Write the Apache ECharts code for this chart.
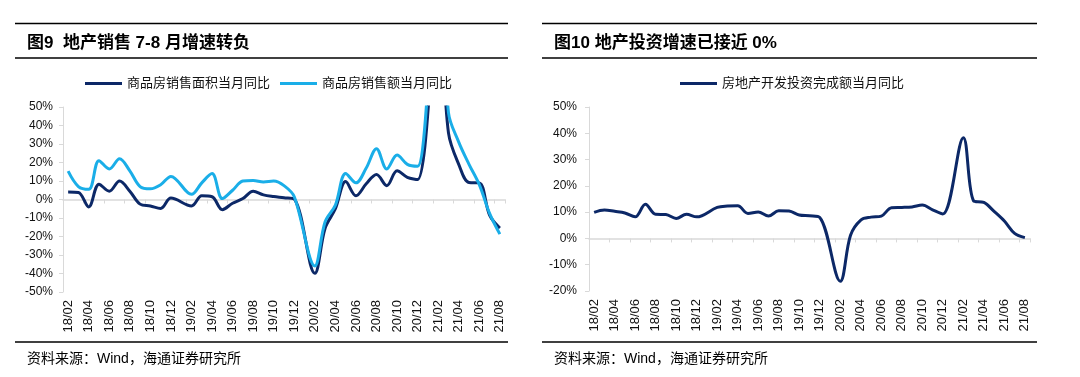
<!DOCTYPE html>
<html>
<head>
<meta charset="utf-8">
<script src="https://cdn.jsdelivr.net/npm/echarts@6/dist/echarts.min.js"></script>
<style>
  html, body { margin: 0; padding: 0; background: #fff; }
  #chart { width: 1080px; height: 377px; }
</style>
</head>
<body>
<div id="chart"></div>
<script>
// monthly categories, January is not published on its own (null -> line joins Dec to Feb)
const months = [
  '18/02', '18/03', '18/04', '18/05', '18/06', '18/07', '18/08', '18/09', '18/10', '18/11', '18/12',
  '19/01', '19/02', '19/03', '19/04', '19/05', '19/06', '19/07', '19/08', '19/09', '19/10', '19/11', '19/12',
  '20/01', '20/02', '20/03', '20/04', '20/05', '20/06', '20/07', '20/08', '20/09', '20/10', '20/11', '20/12',
  '21/01', '21/02', '21/03', '21/04', '21/05', '21/06', '21/07', '21/08'
];

// 图9: 商品房销售面积 / 销售额 当月同比 (%)
const salesArea = [
  4.1, 3.8, -4.0, 8.3, 4.5, 10.0, 4.5, -2.5, -3.5, -4.8, 0.8,
  null, -3.5, 2.0, 1.5, -5.5, -2.0, 0.5, 4.5, 2.5, 1.6, 1.0, 0.2,
  null, -39.9, -15.5, -5.0, 9.7, 2.0, 8.5, 13.5, 7.5, 15.5, 12.0, 10.8,
  null, 104.9, 36.0, 19.0, 9.2, 9.0, -8.5, -15.5
];
const salesAmount = [
  15.3, 7.0, 5.5, 21.0, 16.5, 22.0, 15.5, 7.0, 5.8, 8.0, 12.5,
  null, 2.8, 9.0, 14.0, 0.5, 5.0, 10.0, 10.3, 9.5, 10.0, 7.5, 1.5,
  null, -35.9, -12.0, -3.0, 14.0, 9.0, 17.0, 27.5, 16.5, 24.0, 19.0, 18.0,
  null, 133.4, 47.0, 31.0, 19.0, 8.0, -7.5, -18.7
];

// 图10: 房地产开发投资完成额当月同比 (%)
const investment = [
  9.9, 10.8, 10.3, 9.7, 8.2, 13.0, 9.2, 9.1, 7.6, 9.2, 8.2,
  null, 11.8, 12.3, 12.4, 9.5, 10.1, 8.5, 10.5, 10.4, 8.9, 8.6, 8.0,
  null, -16.3, 1.2, 7.0, 8.1, 8.5, 11.7, 11.8, 12.0, 12.7, 10.9, 9.3,
  null, 38.3, 14.3, 13.7, 10.3, 6.6, 1.9, 0.3
];

const navy = '#0c2867';
const sky = '#1aaee8';
const gray = '#d9d9d9';
const fontFamily = "'Liberation Sans', 'Noto Sans CJK SC', sans-serif";

const chart = echarts.init(document.getElementById('chart'));

// labels sit at the bottom, the gray axis line with ticks sits on 0%
function labelAxis(gridIndex) {
  return {
    gridIndex: gridIndex,
    type: 'category',
    data: months,
    position: 'bottom',
    axisLine: { show: false, onZero: false },
    axisTick: { show: false },
    axisLabel: { interval: 1, rotate: 90, margin: 8, fontSize: 13, color: '#111', fontFamily: fontFamily }
  };
}
function zeroAxis(gridIndex) {
  return {
    gridIndex: gridIndex,
    type: 'category',
    data: months,
    position: 'top',
    axisLine: { show: true, onZero: true, lineStyle: { color: gray, width: 1.5 } },
    axisTick: { show: true, interval: 1, inside: true, length: 4, lineStyle: { color: gray } },
    axisLabel: { show: false }
  };
}
function valueAxis(gridIndex, min, margin) {
  return {
    gridIndex: gridIndex,
    type: 'value',
    min: min,
    max: 50,
    interval: 10,
    axisLine: { show: true, lineStyle: { color: gray } },
    axisTick: { show: true, length: 4, lineStyle: { color: gray } },
    splitLine: { show: false },
    axisLabel: { formatter: '{value}%', fontSize: 12, margin: margin, color: '#111', fontFamily: fontFamily }
  };
}
function lineSeries(name, data, color, xIdx, yIdx) {
  return {
    name: name,
    type: 'line',
    xAxisIndex: xIdx,
    yAxisIndex: yIdx,
    data: data,
    smooth: 0.35,
    connectNulls: true,
    symbol: 'none',
    lineStyle: { width: 3, color: color },
    itemStyle: { color: color }
  };
}
function rule(x1, x2, y) {
  return { type: 'line', shape: { x1: x1, y1: y, x2: x2, y2: y }, style: { stroke: '#000', lineWidth: 1.5 } };
}
function text(x, y, str, font) {
  return { type: 'text', x: x, y: y, style: { text: str, font: font, fill: '#000', verticalAlign: 'middle' } };
}

// plain line swatch in the legend, no marker
const legendBase = {
  top: 72, icon: 'rect', itemWidth: 37, itemHeight: 3, itemGap: 10,
  textStyle: { fontSize: 13, color: '#111', fontFamily: fontFamily }
};

chart.setOption({
  animation: false,
  grid: [
    { left: 63, right: 575, top: 107, bottom: 85 },
    { left: 589, right: 50, top: 107, bottom: 86 }
  ],
  legend: [
    Object.assign({ data: ['商品房销售面积当月同比', '商品房销售额当月同比'], left: 80 }, legendBase),
    Object.assign({ data: ['房地产开发投资完成额当月同比'], left: 675 }, legendBase)
  ],
  xAxis: [labelAxis(0), zeroAxis(0), labelAxis(1), zeroAxis(1)],
  yAxis: [valueAxis(0, -50, 10), valueAxis(1, -20, 12)],
  series: [
    lineSeries('商品房销售面积当月同比', salesArea, navy, 0, 0),
    lineSeries('商品房销售额当月同比', salesAmount, sky, 0, 0),
    lineSeries('房地产开发投资完成额当月同比', investment, navy, 2, 1)
  ],
  graphic: [
    rule(15, 508, 23.5), rule(15, 508, 58), rule(15, 508, 342),
    rule(542, 1037, 23.5), rule(542, 1037, 58), rule(542, 1037, 342),
    text(27, 43, '图9  地产销售 7-8 月增速转负', 'bold 17px ' + fontFamily),
    text(554, 43, '图10 地产投资增速已接近 0%', 'bold 17px ' + fontFamily),
    text(27, 359, '资料来源：Wind，海通证券研究所', '14px ' + fontFamily),
    text(554, 359, '资料来源：Wind，海通证券研究所', '14px ' + fontFamily)
  ]
});
</script>
</body>
</html>
